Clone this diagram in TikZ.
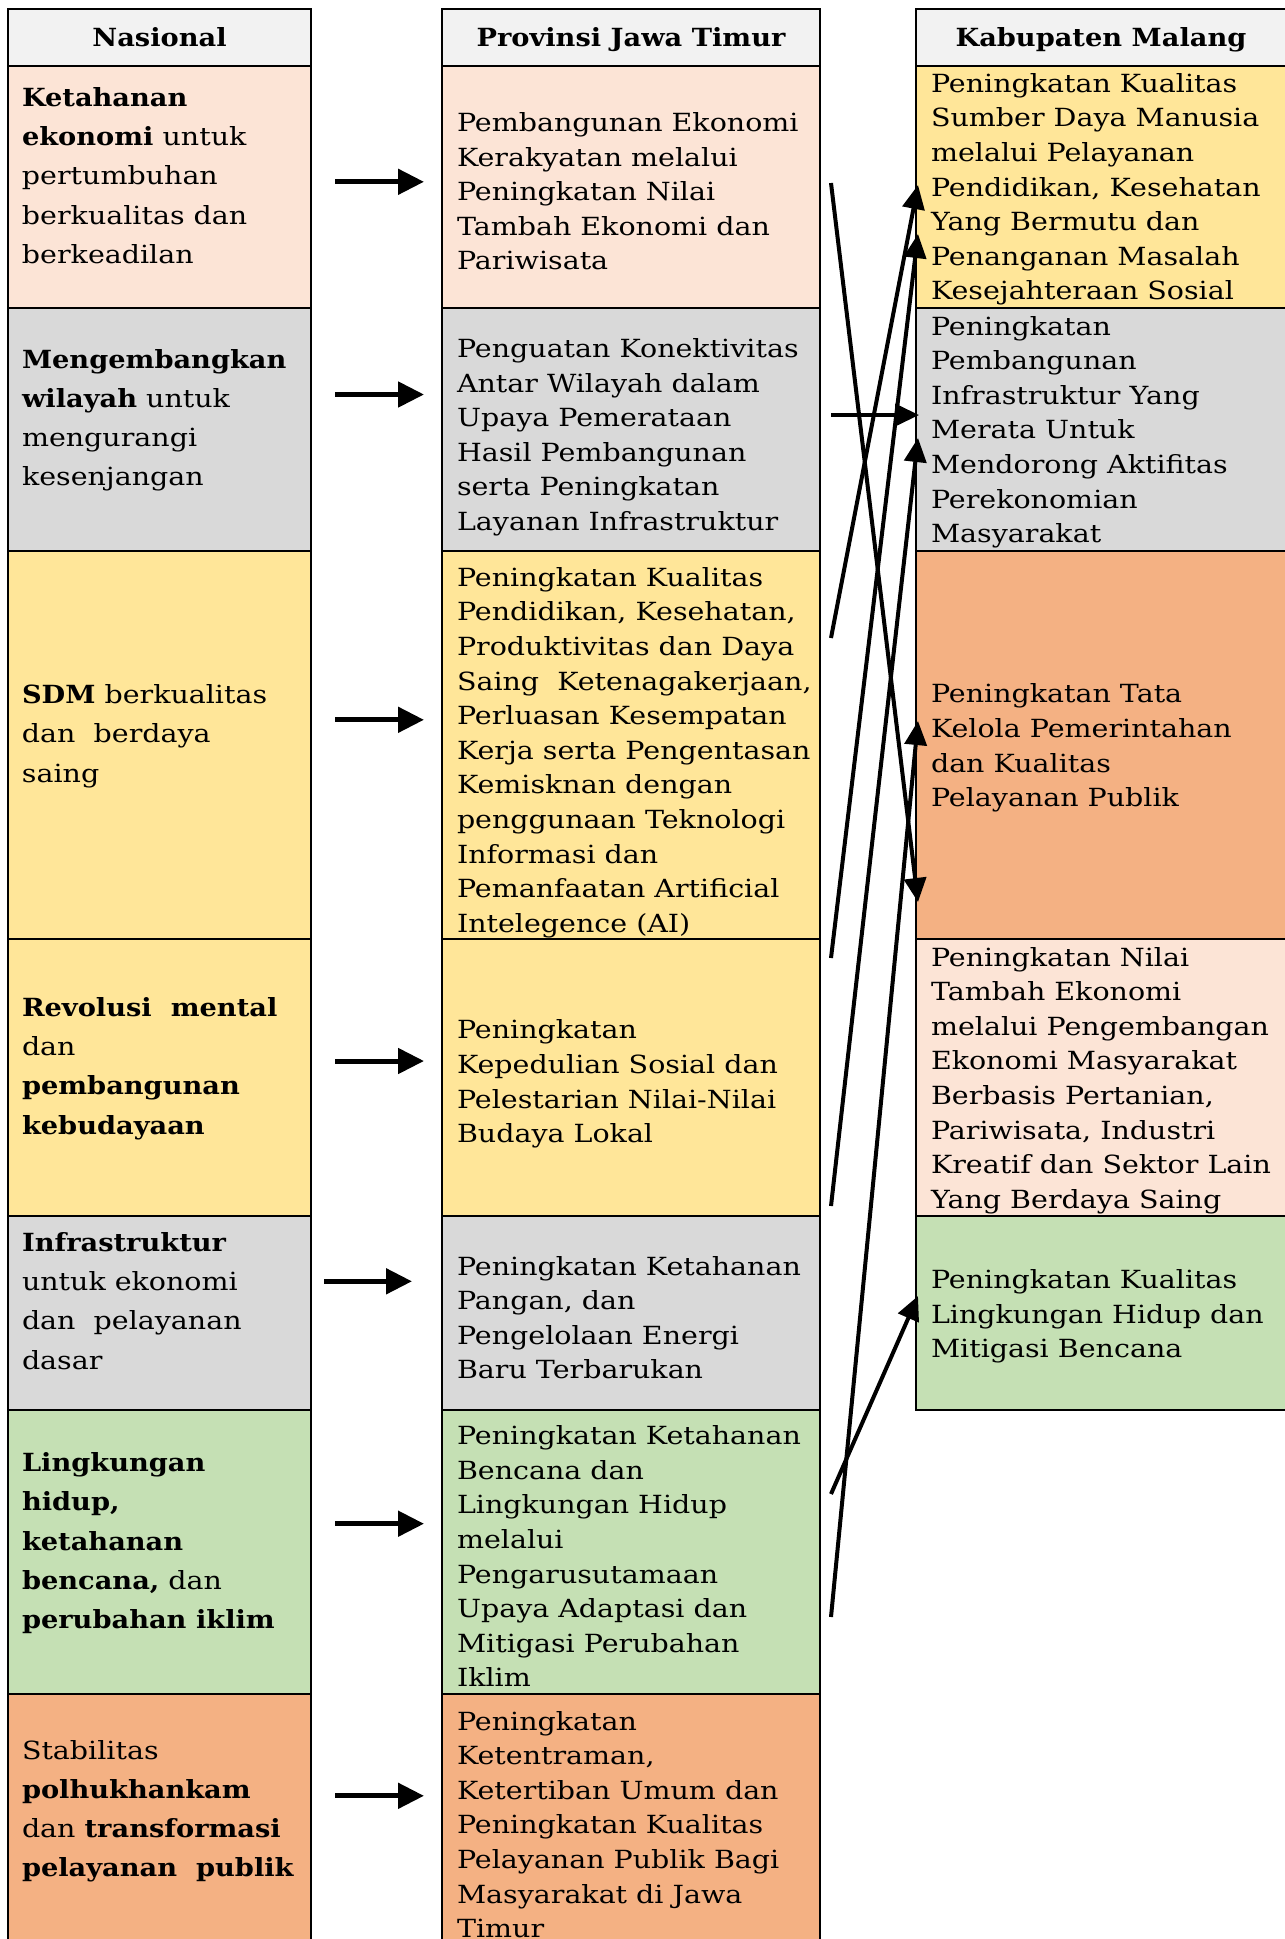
\documentclass[tikz,border=0pt]{standalone}
\usepackage{fontspec}
\setmainfont{DejaVu Serif}[FakeStretch=1.14, BoldFeatures={FakeStretch=1.09}]
\usetikzlibrary{arrows.meta,fit}
\definecolor{cpeach}{HTML}{FCE4D6}
\definecolor{cgrey}{HTML}{D9D9D9}
\definecolor{cyel}{HTML}{FFE699}
\definecolor{cora}{HTML}{F4B183}
\definecolor{cgreen}{HTML}{C5E0B4}
\definecolor{chead}{HTML}{F2F2F2}
\newcommand\myfs{12.5}
\newcommand\tA[1]{\parbox[t]{170pt}{\raggedright\fontsize{\myfs}{19.55}\selectfont #1}}
\newcommand\tB[1]{\parbox[t]{200pt}{\raggedright\fontsize{\myfs}{17.3}\selectfont #1}}
\begin{document}
\begin{tikzpicture}[x=0.5pt,y=-0.5pt,
  cell/.style={draw=black, line width=1pt, inner sep=0pt, outer sep=0pt},
  txt/.style={anchor=base west, inner sep=0pt, outer sep=0pt},
  hdr/.style={anchor=base, inner sep=0pt, font=\fontsize{\myfs}{15}\selectfont\bfseries},
  harr/.style={line width=2.5pt, -{Triangle[length=13pt,width=12.5pt]}},
  darr/.style={line width=2pt, -{Triangle[length=12pt,width=11pt]}}]
\useasboundingbox (0,0) rectangle (1285,1939);
\clip (0,0) rectangle (1285,1939);
% ---------- column 1
\node[cell, fill=chead,  fit={(8,9.3) (311,65.5)}]   (h1) {};
\node[cell, fill=cpeach, fit={(8,65.5) (311,307.5)}] (a1) {};
\node[cell, fill=cgrey,  fit={(8,307.5) (311,551)}]  (a2) {};
\node[cell, fill=cyel,   fit={(8,551) (311,938.5)}]  (a3) {};
\node[cell, fill=cyel,   fit={(8,938.5) (311,1216)}] (a4) {};
\node[cell, fill=cgrey,  fit={(8,1216) (311,1410)}]  (a5) {};
\node[cell, fill=cgreen, fit={(8,1410) (311,1694)}]  (a6) {};
\node[cell, fill=cora,   fit={(8,1694) (311,1960)}]  (a7) {};
% ---------- column 2
\node[cell, fill=chead,  fit={(442,9.3) (820,65.5)}]   (h2) {};
\node[cell, fill=cpeach, fit={(442,65.5) (820,307.5)}] (b1) {};
\node[cell, fill=cgrey,  fit={(442,307.5) (820,551)}]  (b2) {};
\node[cell, fill=cyel,   fit={(442,551) (820,938.5)}]  (b3) {};
\node[cell, fill=cyel,   fit={(442,938.5) (820,1216)}] (b4) {};
\node[cell, fill=cgrey,  fit={(442,1216) (820,1410)}]  (b5) {};
\node[cell, fill=cgreen, fit={(442,1410) (820,1694)}]  (b6) {};
\node[cell, fill=cora,   fit={(442,1694) (820,1960)}]  (b7) {};
% ---------- column 3
\node[cell, fill=chead,  fit={(916,9.3) (1300,65.5)}]   (h3) {};
\node[cell, fill=cyel,   fit={(916,65.5) (1300,307.5)}] (c1) {};
\node[cell, fill=cgrey,  fit={(916,307.5) (1300,551)}]  (c2) {};
\node[cell, fill=cora,   fit={(916,551) (1300,938.5)}]  (c3) {};
\node[cell, fill=cpeach, fit={(916,938.5) (1300,1216)}] (c4) {};
\node[cell, fill=cgreen, fit={(916,1216) (1300,1410)}]  (c5) {};
% ---------- headers
\node[hdr] (th1) at (159.5,46.7) {Nasional};
\node[hdr] (th2) at (631,46.7) {Provinsi Jawa Timur};
\node[hdr] (th3) at (1101,46.7) {Kabupaten Malang};
% ---------- column 1 texts
\node[txt] (ta1) at (22,106.7) {\tA{\textbf{Ketahanan}\\ \textbf{ekonomi} untuk\\ pertumbuhan\\ berkualitas dan\\ berkeadilan}};
\node[txt] (ta2) at (22,368.6) {\tA{\textbf{Mengembangkan}\\ \textbf{wilayah} untuk\\ mengurangi\\ kesenjangan}};
\node[txt] (ta3) at (22,703.8) {\tA{\textbf{SDM} berkualitas\\ dan~~berdaya\\ saing}};
\node[txt] (ta4) at (22,1016.7) {\tA{\textbf{Revolusi~~mental}\\ dan\\ \textbf{pembangunan}\\ \textbf{kebudayaan}}};
\node[txt] (ta5) at (22,1251.7) {\tA{\textbf{Infrastruktur}\\ untuk ekonomi\\ dan~~pelayanan\\ dasar}};
\node[txt] (ta6) at (22,1471.8) {\tA{\textbf{Lingkungan}\\ \textbf{hidup,}\\ \textbf{ketahanan}\\ \textbf{bencana,} dan\\ \textbf{perubahan iklim}}};
\node[txt] (ta7) at (22,1759) {\tA{Stabilitas\\ \textbf{polhukhankam}\\ dan \textbf{transformasi}\\ \textbf{pelayanan~~publik}}};
% ---------- column 2 texts
\node[txt] (tb1) at (457,131.5) {\tB{Pembangunan Ekonomi\\ Kerakyatan melalui\\ Peningkatan Nilai\\ Tambah Ekonomi dan\\ Pariwisata}};
\node[txt] (tb2) at (457,357.4) {\tB{Penguatan Konektivitas\\ Antar Wilayah dalam\\ Upaya Pemerataan\\ Hasil Pembangunan\\ serta Peningkatan\\ Layanan Infrastruktur}};
\node[txt] (tb3) at (457,586.2) {\tB{Peningkatan Kualitas\\ Pendidikan, Kesehatan,\\ Produktivitas dan Daya\\ Saing~~Ketenagakerjaan,\\ Perluasan Kesempatan\\ Kerja serta Pengentasan\\ Kemisknan dengan\\ penggunaan Teknologi\\ Informasi dan\\ Pemanfaatan Artificial\\ Intelegence (AI)}};
\node[txt] (tb4) at (457,1038.9) {\tB{Peningkatan\\ Kepedulian Sosial dan\\ Pelestarian Nilai-Nilai\\ Budaya Lokal}};
\node[txt] (tb5) at (457,1275) {\tB{Peningkatan Ketahanan\\ Pangan, dan\\ Pengelolaan Energi\\ Baru Terbarukan}};
\node[txt] (tb6) at (457,1444.6) {\tB{Peningkatan Ketahanan\\ Bencana dan\\ Lingkungan Hidup\\ melalui\\ Pengarusutamaan\\ Upaya Adaptasi dan\\ Mitigasi Perubahan\\ Iklim}};
\node[txt] (tb7) at (457,1730) {\tB{Peningkatan\\ Ketentraman,\\ Ketertiban Umum dan\\ Peningkatan Kualitas\\ Pelayanan Publik Bagi\\ Masyarakat di Jawa\\ Timur}};
% ---------- column 3 texts
\node[txt] (tc1) at (931,92.3) {\tB{Peningkatan Kualitas\\ Sumber Daya Manusia\\ melalui Pelayanan\\ Pendidikan, Kesehatan\\ Yang Bermutu dan\\ Penanganan Masalah\\ Kesejahteraan Sosial}};
\node[txt] (tc2) at (931,335) {\tB{Peningkatan\\ Pembangunan\\ Infrastruktur Yang\\ Merata Untuk\\ Mendorong Aktifitas\\ Perekonomian\\ Masyarakat}};
\node[txt] (tc3) at (931,702.8) {\tB{Peningkatan Tata\\ Kelola Pemerintahan\\ dan Kualitas\\ Pelayanan Publik}};
\node[txt] (tc4) at (931,966) {\tB{Peningkatan Nilai\\ Tambah Ekonomi\\ melalui Pengembangan\\ Ekonomi Masyarakat\\ Berbasis Pertanian,\\ Pariwisata, Industri\\ Kreatif dan Sektor Lain\\ Yang Berdaya Saing}};
\node[txt] (tc5) at (931,1288.7) {\tB{Peningkatan Kualitas\\ Lingkungan Hidup dan\\ Mitigasi Bencana}};
% ---------- horizontal arrows
\coordinate (p1s) at (335,181.8);  \coordinate (p1e) at (424,181.8);
\coordinate (p2s) at (335,394.5);  \coordinate (p2e) at (424,394.5);
\coordinate (p3s) at (335,719.8);  \coordinate (p3e) at (424,719.8);
\coordinate (p4s) at (335,1061);   \coordinate (p4e) at (424,1061);
\coordinate (p5s) at (324,1281.3); \coordinate (p5e) at (412,1281.3);
\coordinate (p6s) at (335,1523.7); \coordinate (p6e) at (424,1523.7);
\coordinate (p7s) at (335,1795.8); \coordinate (p7e) at (424,1795.8);
\foreach \i in {1,...,7} \draw[harr] (p\i s) -- (p\i e);
% ---------- crossing arrows
\coordinate (q1s) at (831,183);  \coordinate (q1e) at (918,902);
\coordinate (q2s) at (831,638);  \coordinate (q2e) at (918,185);
\coordinate (q3s) at (831,415);  \coordinate (q3e) at (919,415);
\coordinate (q4s) at (831,958);  \coordinate (q4e) at (918,234);
\coordinate (q5s) at (831,1206); \coordinate (q5e) at (918,438);
\coordinate (q6s) at (831,1494); \coordinate (q6e) at (918,1296);
\coordinate (q7s) at (831,1617); \coordinate (q7e) at (918,721);
\foreach \i in {1,...,7} \draw[darr] (q\i s) -- (q\i e);
\end{tikzpicture}
\end{document}
